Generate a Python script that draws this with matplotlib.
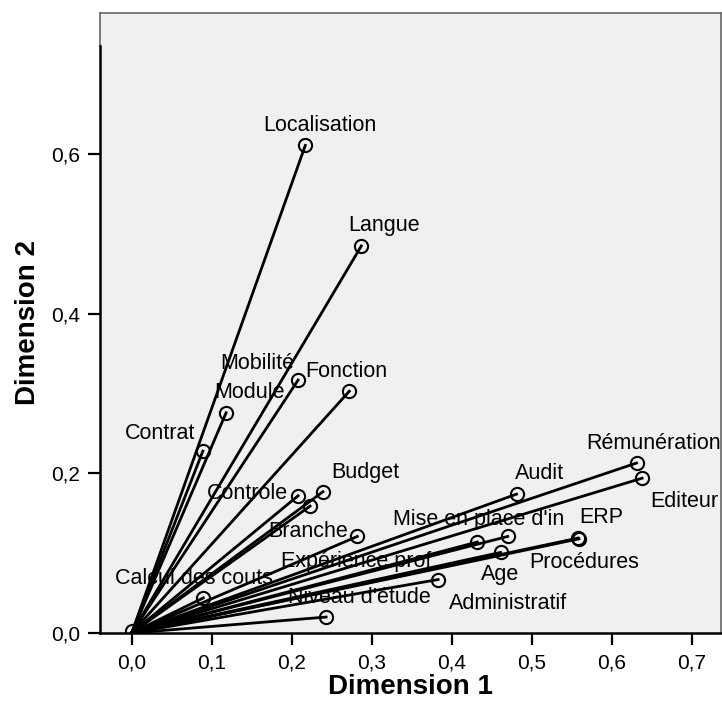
import matplotlib
matplotlib.use('Agg')
import matplotlib.pyplot as plt
import matplotlib.ticker as mticker

noms = ['Localisation', 'Langue', 'Mobilité', 'Module', 'Fonction', 'Contrat',
        'Controle', 'Budget', '', 'Branche', 'Calcul des couts', 'Audit',
        'Rémunération', 'Editeur', "Mise en place d'in", 'Expérience prof',
        'Age', 'ERP', 'Procédures', 'Administratif', "Niveau d'étude", '']
dim1 = [0.217, 0.287, 0.208, 0.118, 0.272, 0.089,
        0.208, 0.239, 0.223, 0.282, 0.0895, 0.481,
        0.631, 0.638, 0.432, 0.470,
        0.461, 0.558, 0.559, 0.383, 0.243, 0.000]
dim2 = [0.611, 0.485, 0.317, 0.276, 0.303, 0.228,
        0.172, 0.177, 0.159, 0.121, 0.044, 0.174,
        0.213, 0.194, 0.114, 0.121,
        0.101, 0.119, 0.118, 0.067, 0.020, 0.002]
x_ticks = [0.0, 0.1, 0.2, 0.3, 0.4, 0.5, 0.6, 0.7]
y_ticks = [0.0, 0.2, 0.4, 0.6]

# décalage des étiquettes (pixels) par rapport au point
DECAL = {'Localisation': (15, 20), 'Langue': (23, 20), 'Mobilité': (-41, 17),
         'Module': (23, 20), 'Fonction': (-3, 20), 'Contrat': (-43, 18),
         'Controle': (-51, 2), 'Budget': (42, 19), 'Branche': (-49, 5),
         'Calcul des couts': (-9, 19), 'Audit': (23, 21),
         'Rémunération': (17, 20), 'Editeur': (42, -23),
         "Mise en place d'in": (1, 23), 'Expérience prof': (-152, -25),
         'Age': (0, -22), 'ERP': (23, 21), 'Procédures': (5, -24),
         'Administratif': (70, -24), "Niveau d'étude": (33, 20)}

plt.rcParams['font.family'] = ['Liberation Sans', 'DejaVu Sans']

fig = plt.figure(figsize=(7.22, 7.19), dpi=100)
ax = fig.add_axes([0.1385, 0.1196, 0.8595, 0.8624])
ax.set_facecolor('#f0f0f0')

for n, x, y in zip(noms, dim1, dim2):
    ax.plot([0, x], [0, y], color='black', linewidth=2.0, zorder=2)
    ax.plot(x, y, 'o', markersize=9.5, markerfacecolor='none',
            markeredgecolor='black', markeredgewidth=1.5, zorder=3)
    if n:
        dx, dy = DECAL[n]
        ax.annotate(n, (x, y), xytext=(dx, dy), textcoords='offset pixels',
                    ha='center', va='center', fontsize=15.5, zorder=4)

ax.set_xlim(-0.0396, 0.736)
ax.set_ylim(0.0, 0.777)
ax.set_xticks(x_ticks)
ax.set_yticks(y_ticks)
fmt = mticker.FuncFormatter(lambda v, _: f'{v:.1f}'.replace('.', ','))
ax.xaxis.set_major_formatter(fmt)
ax.yaxis.set_major_formatter(fmt)
ax.tick_params(direction='out', length=8.5, width=1.6, labelsize=15,
               color='black', pad=6)

for s in ['top', 'right']:
    ax.spines[s].set_color('#666666')
    ax.spines[s].set_linewidth(1.2)
ax.spines['bottom'].set_linewidth(1.8)
ax.spines['left'].set_linewidth(1.8)
ax.spines['left'].set_bounds(0, 0.736)
ax.axvline(ax.get_xlim()[0], ymin=0.736 / 0.777, ymax=1, color='#666666',
           linewidth=1.2, clip_on=False)

ax.set_xlabel('Dimension 1', fontsize=20, fontweight='bold', labelpad=1)
ax.set_ylabel('Dimension 2', fontsize=20, fontweight='bold', labelpad=7)

plt.savefig('out.png', dpi=100)
